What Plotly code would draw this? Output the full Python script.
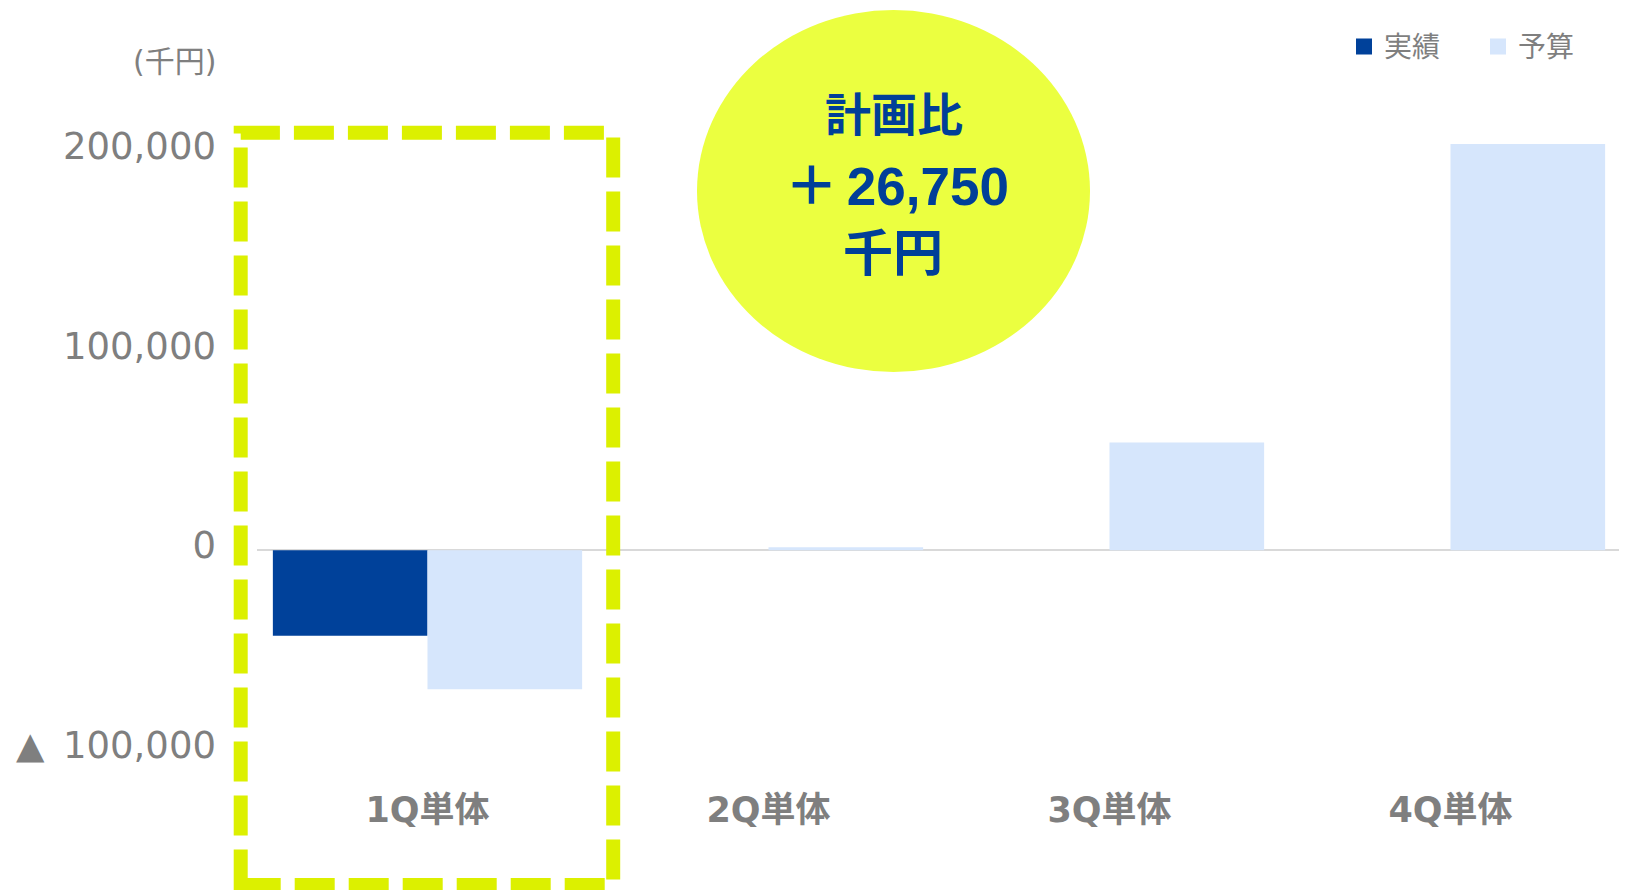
import plotly.graph_objects as go

# ---- data ----
categories = ["1Q単体", "2Q単体", "3Q単体", "4Q単体"]
actual = [-42750, None, None, None]          # 実績
budget = [-69500, 1500, 54000, 203500]        # 予算
series_names = ["実績", "予算"]
y_tickvals = [-100000, 0, 100000, 200000]
y_ticktext = ["▲\u2002100,000", "0", "100,000", "200,000"]
unit_label = "(千円)"
callout_lines = ["計画比", "＋\u200626,750", "千円"]

# ---- layout geometry (pixels); page body has an 8px margin ----
OFF = 8
W, H = 1627 - OFF, 890 - OFF
ML, MT, PW, PH = 257 - OFF, 131 - OFF, 1364, 659
MR = W - ML - PW
MB = H - MT - PH


def px(x):  # screen x -> paper
    return (x - OFF - ML) / PW


def py(y):  # screen y -> paper
    return (MT + PH - (y - OFF)) / PH


GRAY = "#7F7F7F"
NAVY = "#00419A"
LIGHT = "#D6E6FC"
LIME = "#DCF000"
CIRCLE = "#EBFF40"
TXT = "#003F98"
CJK = "Noto Sans CJK JP"

fig = go.Figure()
colors = [NAVY, LIGHT]
for name, vals, col in zip(series_names, [actual, budget], colors):
    fig.add_trace(go.Bar(name=name, x=categories, y=vals, legendgroup=name, showlegend=False,
                         marker=dict(color=col, line=dict(width=0))))
# legend entries (larger square swatches)
for name, col in zip(series_names, colors):
    fig.add_trace(go.Scatter(name=name, x=[None], y=[None], mode="markers", legendgroup=name,
                             marker=dict(symbol="square", size=16, color=col), hoverinfo="skip"))

shapes = [
    dict(type="circle", xref="paper", yref="paper",
         x0=px(697), x1=px(1090), y0=py(372), y1=py(10),
         fillcolor=CIRCLE, line=dict(width=0), layer="below"),
    dict(type="rect", xref="paper", yref="paper",
         x0=px(240.7), x1=px(613.2), y0=py(885), y1=py(132.8),
         line=dict(color=LIME, width=14, dash="40px,14px"), fillcolor="rgba(0,0,0,0)", layer="above"),
]

annotations = [
    dict(text=unit_label, xref="paper", yref="paper", x=px(218), y=py(62),
         xanchor="right", yanchor="middle", showarrow=False,
         font=dict(family=f"DejaVu Sans, {CJK}", size=30, color=GRAY)),
    dict(text=callout_lines[0], xref="paper", yref="paper", x=px(894), y=py(115),
         xanchor="center", yanchor="middle", showarrow=False,
         font=dict(family=f"Liberation Sans, {CJK}", size=46, color=TXT, weight="bold")),
    dict(text=callout_lines[1], xref="paper", yref="paper", x=px(897), y=py(186),
         xanchor="center", yanchor="middle", showarrow=False,
         font=dict(family=f"Liberation Sans, {CJK}", size=53, color=TXT, weight="bold")),
    dict(text=callout_lines[2], xref="paper", yref="paper", x=px(893), y=py(254),
         xanchor="center", yanchor="middle", showarrow=False,
         font=dict(family=f"Liberation Sans, {CJK}", size=50, color=TXT, weight="bold")),
]

fig.update_layout(
    width=W, height=H,
    margin=dict(l=ML, r=MR, t=MT, b=MB, autoexpand=False),
    paper_bgcolor="white", plot_bgcolor="white",
    barmode="group", bargap=0.093, bargroupgap=0,
    shapes=shapes, annotations=annotations,
    showlegend=True,
    legend=dict(orientation="h", xanchor="left", yanchor="middle",
                x=px(1344), y=py(46.7), entrywidth=89, itemsizing="trace",
                font=dict(family=CJK, size=28, color=GRAY),
                bgcolor="rgba(0,0,0,0)"),
    xaxis=dict(showgrid=False, showline=False, ticks="",
               tickfont=dict(family=f"DejaVu Sans, {CJK}", size=35, color=GRAY, weight="bold"),
               ticklabelstandoff=-4),
    yaxis=dict(range=[-120000, 210000], showgrid=False, showline=False, ticks="",
               tickvals=y_tickvals, ticktext=y_ticktext,
               zeroline=True, zerolinecolor="#D9D9D9", zerolinewidth=2,
               tickfont=dict(family=f"DejaVu Sans, {CJK}", size=37, color=GRAY),
               ticklabelstandoff=40, ticklabelshift=-5),
)

fig.write_html("out.html")
